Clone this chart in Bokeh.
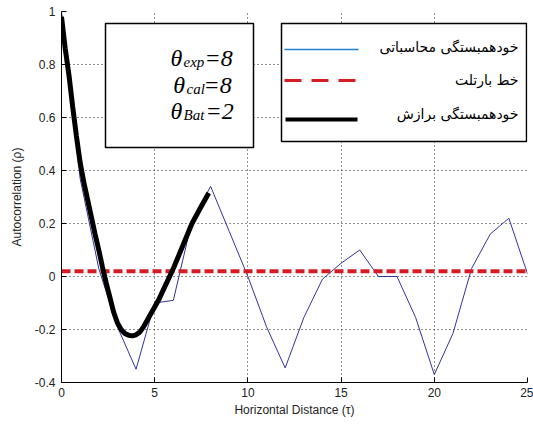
from bokeh.plotting import figure
from bokeh.models import Range1d, FixedTicker, CustomJSTickFormatter, BoxAnnotation, Label, Arrow
from bokeh.embed import file_html
from bokeh.resources import INLINE

# ---------------- data ----------------
lags = list(range(26))
calc_acf = [1.0, 0.37, 0.03, -0.19, -0.35, -0.10, -0.09, 0.21, 0.34, 0.17,
            0.0, -0.19, -0.345, -0.155, -0.01, 0.05, 0.10, 0.0, 0.0, -0.155,
            -0.37, -0.215, 0.03, 0.16, 0.22, 0.01]

fit_x = [0.0, 0.2, 0.4, 0.6, 0.8, 1.0, 1.2, 1.4, 1.6, 1.8, 2.0, 2.2, 2.4, 2.6,
         2.8, 3.0, 3.2, 3.4, 3.6, 3.8, 4.0, 4.2, 4.4, 4.6, 4.8, 5.0, 5.2, 5.5,
         6.0, 6.5, 7.0, 7.5, 7.9]
fit_acf = [0.98, 0.86, 0.76, 0.64, 0.53, 0.43, 0.355, 0.29, 0.225, 0.16, 0.10,
           0.035, -0.025, -0.08, -0.135, -0.175, -0.20, -0.215, -0.222, -0.224,
           -0.22, -0.21, -0.19, -0.165, -0.14, -0.115, -0.09, -0.045, 0.03,
           0.115, 0.20, 0.265, 0.315]

bartlett_x = [0, 25]
bartlett_y = [0.02, 0.02]

x_ticks = [0, 5, 10, 15, 20, 25]
y_ticks = [-0.4, -0.2, 0.0, 0.2, 0.4, 0.6, 0.8, 1.0]

legend_labels = ["خودهمبستگی محاسباتی", "خط بارتلت", "خودهمبستگی برازش"]
theta_names = ["exp", "cal", "Bat"]
theta_values = ["8", "8", "2"]

x_label = "Horizontal Distance (τ)"
y_label = "Autocorrelation (ρ)"

# ---------------- layout ----------------
W, H = 533, 425
FL, FR, FT, FB = 61, 527, 11, 382
X0, X1 = 0.0, 25.0
Y0, Y1 = -0.4, 1.0


def dx(px):
    return X0 + (px - FL) * (X1 - X0) / (FR - FL)


def dy(py):
    return Y1 - (py - FT) * (Y1 - Y0) / (FB - FT)


p = figure(width=W, height=H, output_backend="svg", toolbar_location=None,
           x_range=Range1d(X0, X1), y_range=Range1d(Y0, Y1),
           min_border_left=FL, min_border_right=W - FR,
           min_border_top=FT, min_border_bottom=H - FB)
p.outline_line_color = None
p.background_fill_color = "white"
p.border_fill_color = "white"

fmt = CustomJSTickFormatter(code="""
var s = tick.toFixed(1);
if (s.endsWith('.0')) { s = s.slice(0, -2); }
if (s === '-0') { s = '0'; }
return s;
""")

p.xaxis.ticker = FixedTicker(ticks=x_ticks)
p.yaxis.ticker = FixedTicker(ticks=y_ticks)
p.yaxis.formatter = fmt
p.xaxis.formatter = fmt

for ax in (p.xaxis, p.yaxis):
    ax.axis_line_color = "black"
    ax.axis_line_width = 1
    ax.major_tick_in = 5
    ax.major_tick_out = 0
    ax.minor_tick_line_color = None
    ax.major_tick_line_color = "black"
    ax.major_label_text_font = "Liberation Sans"
    ax.major_label_text_font_size = "12px"
    ax.major_label_text_color = "#222222"
    ax.axis_label_text_font = "Liberation Sans"
    ax.axis_label_text_font_size = "12px"
    ax.axis_label_text_font_style = "normal"
    ax.axis_label_text_color = "#222222"

p.xaxis.axis_label = x_label
p.yaxis.axis_label = y_label
p.xaxis.major_label_standoff = 5
p.yaxis.major_label_standoff = 6
p.xaxis.axis_label_standoff = 3
p.yaxis.axis_label_standoff = 8

for g in (p.xgrid, p.ygrid):
    g.grid_line_color = "#222222"
    g.grid_line_dash = "1 3"
    g.grid_line_width = 1
p.xgrid.ticker = FixedTicker(ticks=x_ticks)
p.ygrid.ticker = FixedTicker(ticks=y_ticks)

# ---------------- series ----------------
p.line(lags, calc_acf, line_color="#33339a", line_width=1)
p.line(bartlett_x, bartlett_y, line_color="#d41c24", line_width=4, line_dash="9 4")
p.line(fit_x, fit_acf, line_color="black", line_width=5)

# ---------------- theta box ----------------
p.add_layout(BoxAnnotation(left=dx(105), right=dx(253), top=dy(23), bottom=dy(147),
                           fill_color="white", fill_alpha=1.0,
                           line_color="black", line_alpha=1.0, line_width=1.5))
theta_x = [170, 172.7, 170]
sub_x = [183, 186, 183]
eq_x = [204, 203, 205]
base_y = [57.5, 84, 110]
for i in range(3):
    p.add_layout(Label(x=dx(theta_x[i]), y=dy(base_y[i]), text="θ",
                       text_font="Liberation Serif", text_font_style="italic",
                       text_font_size="24px", text_color="black",
                       text_align="left", text_baseline="alphabetic"))
    p.add_layout(Label(x=dx(sub_x[i]), y=dy(base_y[i] + 4), text=theta_names[i],
                       text_font="Liberation Serif", text_font_style="italic",
                       text_font_size="15px", text_color="black",
                       text_align="left", text_baseline="alphabetic"))
    p.add_layout(Label(x=dx(eq_x[i]), y=dy(base_y[i]), text="=" + theta_values[i],
                       text_font="Liberation Serif", text_font_style="italic",
                       text_font_size="24px", text_color="black",
                       text_align="left", text_baseline="alphabetic"))

# ---------------- legend ----------------
p.add_layout(BoxAnnotation(left=dx(281), right=dx(526), top=dy(23), bottom=dy(141),
                           fill_color="white", fill_alpha=1.0,
                           line_color="black", line_alpha=1.0, line_width=1.5))
p.add_layout(Arrow(end=None, x_start=dx(284), x_end=dx(358), y_start=dy(49), y_end=dy(49),
                   line_color="#1f7fc8", line_width=1.5))
p.add_layout(Arrow(end=None, x_start=dx(284), x_end=dx(357), y_start=dy(80), y_end=dy(80),
                   line_color="#d41c24", line_width=3, line_dash="17 10"))
p.add_layout(Arrow(end=None, x_start=dx(285), x_end=dx(357), y_start=dy(119), y_end=dy(119),
                   line_color="black", line_width=4))
leg_y = [46, 79, 113]
for i in range(3):
    p.add_layout(Label(x=dx(518), y=dy(leg_y[i]), text=legend_labels[i],
                       text_font="DejaVu Sans", text_font_size="14px",
                       text_color="black", text_align="right", text_baseline="middle"))

open("out.html", "w").write(file_html(p, INLINE))
